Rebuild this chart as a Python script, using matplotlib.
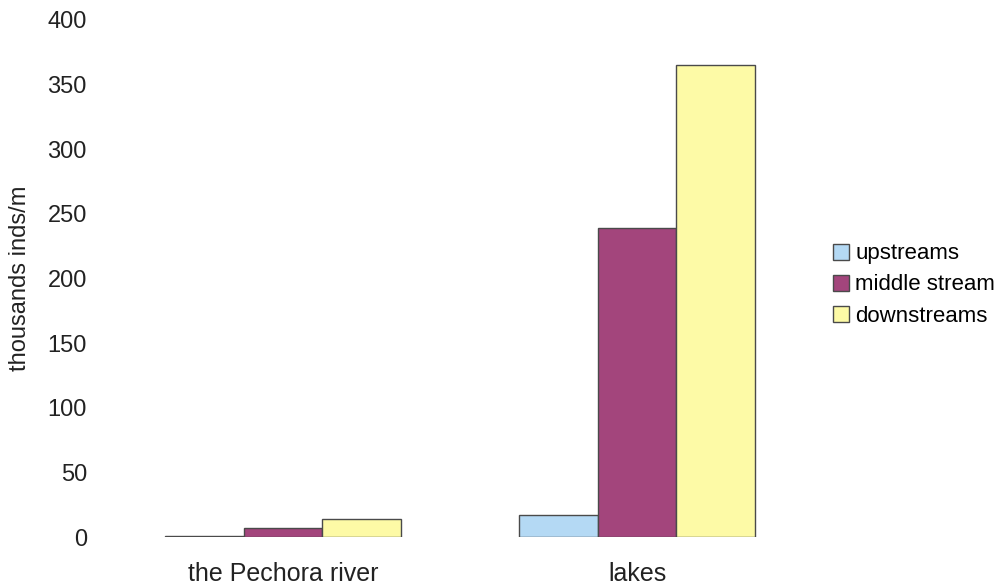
import numpy as np
import matplotlib.pyplot as plt

plt.rcParams['font.family'] = ['Liberation Sans', 'DejaVu Sans']

# values (thousands inds/m)
categories = ['the Pechora river', 'lakes']
series = ['upstreams', 'middle stream', 'downstreams']
upstreams = [0.5, 17]
middle_stream = [7, 239]
downstreams = [14, 365]
colors = ['#b4d9f4', '#a3457c', '#fdfaa6']

fig = plt.figure(figsize=(10.08, 5.85), dpi=100)
ax = fig.add_axes([105 / 1008, 48 / 585, 695 / 1008, 517 / 585])

x = np.arange(len(categories))
w = 0.222
for i, (vals, name) in enumerate(zip([upstreams, middle_stream, downstreams], series)):
    ax.bar(x + (i - 1) * w, vals, w, color=colors[i], edgecolor='#4a4a4a',
           linewidth=1.0, label=name)

ax.set_xlim((105 - 283) / 354, (800 - 283) / 354)
ax.set_ylim(0, 400)
ax.set_yticks(range(0, 401, 50))
ax.set_xticks(x)
ax.set_xticklabels(categories)
ax.tick_params(axis='y', length=0, labelsize=17, colors='#222222', pad=13)
ax.tick_params(axis='x', length=0, labelsize=18, colors='#222222', pad=18)
for s in ax.spines.values():
    s.set_visible(False)
ax.set_ylabel('thousands inds/m', fontsize=17, color='#222222', labelpad=12)

fig.legend(loc='center left', bbox_to_anchor=(833 / 1008, 1 - 285 / 585),
           frameon=False, fontsize=16, handlelength=0.7, handleheight=0.7,
           handletextpad=0.3, labelspacing=0.45, borderpad=0, borderaxespad=0)

fig.savefig('out.png', dpi=100)
